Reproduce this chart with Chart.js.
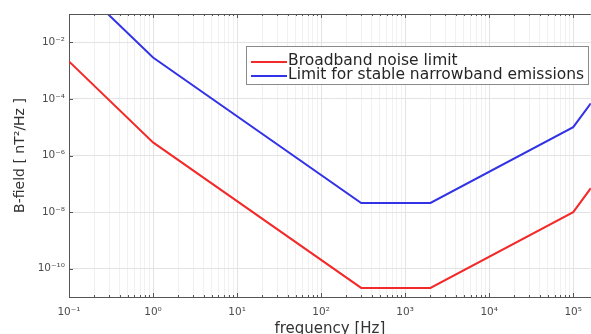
<!DOCTYPE html>
<html>
<head>
<meta charset="utf-8">
<script src="https://cdn.jsdelivr.net/npm/chart.js@4/dist/chart.umd.min.js"></script>
<style>
  html, body { margin: 0; background: #fff; }
  #wrap { width: 591px; height: 334px; }
</style>
</head>
<body>
<div id="wrap"><canvas id="chart"></canvas></div>
<script>
// frequency breakpoints [Hz] and the two limit curves [nT^2/Hz]
const freqs = [0.1, 1, 300, 2000, 1e5, 1.62e5];
const broadbandLimit = [2.1e-3, 2.9e-6, 2.1e-11, 2.1e-11, 1.0e-8, 7.0e-8];
const narrowbandLimit = [2.1, 2.9e-3, 2.1e-8, 2.1e-8, 1.0e-5, 7.0e-5];
const seriesNames = ['Broadband noise limit', 'Limit for stable narrowband emissions'];
const xDecades = [-1, 0, 1, 2, 3, 4, 5];
const yDecades = [-10, -8, -6, -4, -2];

const SUP = {'-': '\u207B', '0': '\u2070', '1': '\u00B9', '2': '\u00B2', '3': '\u00B3',
  '4': '\u2074', '5': '\u2075', '6': '\u2076', '7': '\u2077', '8': '\u2078', '9': '\u2079'};
const pow10Label = n => '10' + String(n).split('').map(c => SUP[c]).join('');
const isDecade = v => Math.abs(Math.log10(v) - Math.round(Math.log10(v))) < 1e-9;

function xTickValues() {
  let vals = [];
  xDecades.forEach(d => {
    vals.push(Math.pow(10, d));
    if (d < xDecades[xDecades.length - 1]) {
      for (let m = 2; m <= 9; m++) vals.push(m * Math.pow(10, d));
    }
  });
  return vals.sort((a, b) => a - b);
}

const tickFont = { family: 'DejaVu Sans', size: 10.5 };

// MATLAB-like box: top edge and tick marks drawn inside the axes
const axesBox = {
  id: 'axesBox',
  afterDatasetsDraw(chart) {
    const {ctx, chartArea: a, scales} = chart;
    ctx.save();
    ctx.strokeStyle = '#555';
    ctx.lineWidth = 1;
    ctx.beginPath();
    ctx.moveTo(a.left, a.top + 0.5);
    ctx.lineTo(a.right, a.top + 0.5);
    scales.x.ticks.forEach(t => {
      const px = Math.round(scales.x.getPixelForValue(t.value)) + 0.5;
      const len = isDecade(t.value) ? 4 : 2;
      ctx.moveTo(px, a.bottom);
      ctx.lineTo(px, a.bottom - len);
      ctx.moveTo(px, a.top);
      ctx.lineTo(px, a.top + len);
    });
    scales.y.ticks.forEach(t => {
      const py = Math.round(scales.y.getPixelForValue(t.value)) + 0.5;
      ctx.moveTo(a.left, py);
      ctx.lineTo(a.left + 4, py);
    });
    ctx.stroke();
    ctx.restore();
  }
};

const legendBox = {
  id: 'legendBox',
  afterDraw(chart) {
    const ctx = chart.ctx;
    const colors = chart.data.datasets.map(d => d.borderColor);
    ctx.save();
    ctx.fillStyle = '#fff';
    ctx.fillRect(246, 46, 342, 38);
    ctx.strokeStyle = '#8a8a8a';
    ctx.lineWidth = 1;
    ctx.strokeRect(246.5, 46.5, 342, 38);
    ctx.font = '15.5px "DejaVu Sans"';
    ctx.textBaseline = 'middle';
    seriesNames.forEach((name, i) => {
      const y = 61 + i * 14;
      ctx.strokeStyle = colors[i];
      ctx.lineWidth = 2;
      ctx.beginPath();
      ctx.moveTo(251, y + 1);
      ctx.lineTo(287, y + 1);
      ctx.stroke();
      ctx.fillStyle = '#262626';
      ctx.fillText(name, 288, y);
    });
    ctx.restore();
  }
};

new Chart(document.getElementById('chart'), {
  type: 'line',
  data: {
    datasets: [
      {
        label: seriesNames[0],
        data: freqs.map((f, i) => ({x: f, y: broadbandLimit[i]})),
        borderColor: '#f22a2a',
        borderWidth: 2,
        pointRadius: 0,
        tension: 0
      },
      {
        label: seriesNames[1],
        data: freqs.map((f, i) => ({x: f, y: narrowbandLimit[i]})),
        borderColor: '#3232e6',
        borderWidth: 2,
        pointRadius: 0,
        tension: 0
      }
    ]
  },
  options: {
    responsive: true,
    maintainAspectRatio: false,
    animation: false,
    layout: { padding: { top: 14, right: 0, left: 0, bottom: 0 } },
    plugins: {
      legend: { display: false },
      tooltip: { enabled: false }
    },
    scales: {
      x: {
        type: 'logarithmic',
        min: 0.1,
        max: 1.62e5,
        afterBuildTicks: s => { s.ticks = xTickValues().map(v => ({value: v})); },
        afterFit: s => { s.height = 37; },
        ticks: {
          autoSkip: false,
          maxRotation: 0,
          padding: 9,
          color: '#4d4d4d',
          font: tickFont,
          callback: v => isDecade(v) ? pow10Label(Math.round(Math.log10(v))) : ''
        },
        grid: {
          drawTicks: false,
          color: c => (c.tick && isDecade(c.tick.value)) ? '#e3e3e3' : '#f1f1f1'
        },
        border: { color: '#555', width: 1 },
        title: {
          display: true,
          text: 'frequency [Hz]',
          color: '#333',
          font: { family: 'DejaVu Sans', size: 15 },
          padding: { top: 0, bottom: -4 }
        }
      },
      y: {
        type: 'logarithmic',
        min: 1e-11,
        max: 1e-1,
        afterBuildTicks: s => { s.ticks = yDecades.map(d => ({value: Math.pow(10, d)})); },
        afterFit: s => { s.width = 69; },
        ticks: {
          autoSkip: false,
          padding: 4,
          color: '#4d4d4d',
          font: tickFont,
          callback: v => pow10Label(Math.round(Math.log10(v)))
        },
        grid: {
          drawTicks: false,
          color: '#e3e3e3'
        },
        border: { color: '#555', width: 1 },
        title: {
          display: true,
          text: 'B-field [ nT\u00B2/Hz ]',
          color: '#333',
          font: { family: 'DejaVu Sans', size: 14 },
          padding: { top: 11.5, bottom: 0 }
        }
      }
    }
  },
  plugins: [axesBox, legendBox]
});
</script>
</body>
</html>
